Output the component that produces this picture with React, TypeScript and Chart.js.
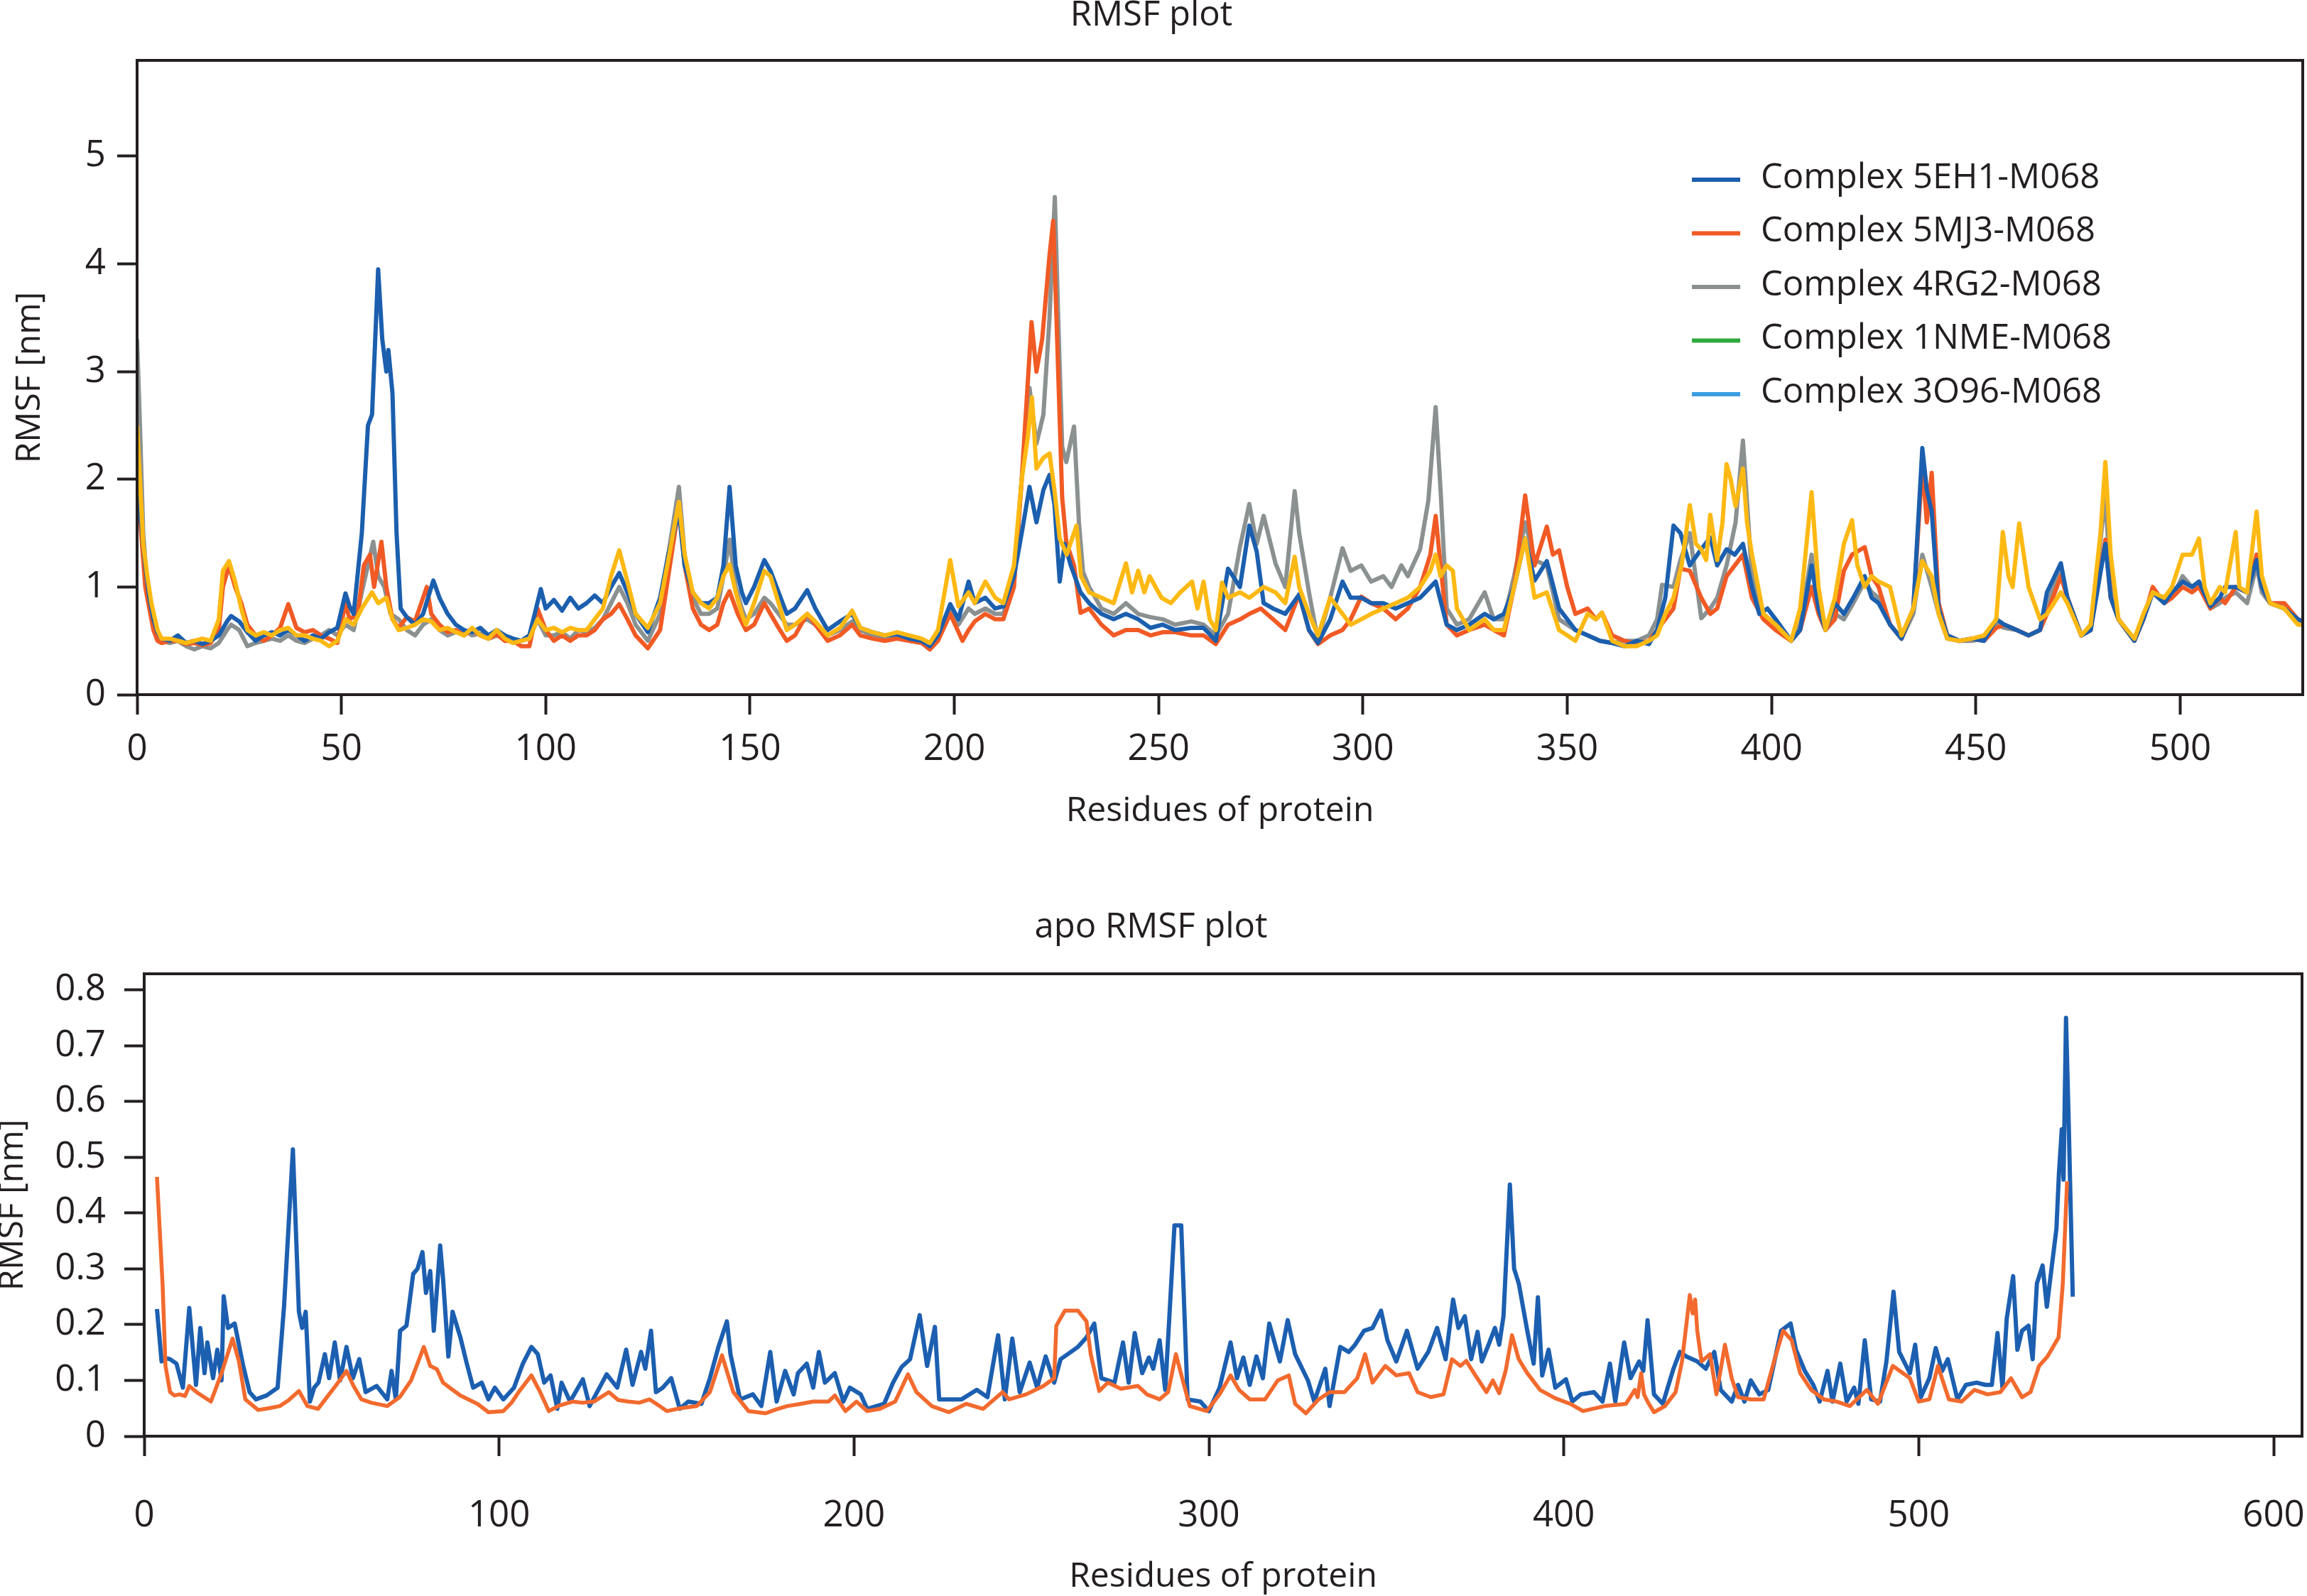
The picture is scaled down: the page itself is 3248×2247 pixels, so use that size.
import { useEffect, useRef } from 'react';
import Chart from 'chart.js/auto';

type Pt = [number, number];

const INK = '#231f20';
const CANVAS_W = 3312;

const LEGEND_LABELS = ['Complex 5EH1-M068', 'Complex 5MJ3-M068', 'Complex 4RG2-M068', 'Complex 1NME-M068', 'Complex 3O96-M068'];
const LEGEND_COLORS = ['#1b5fae', '#f15a24', '#8b9191', '#2eaa3c', '#3c9de0'];

const COMPLEX_X_TICKS = [0, 50, 100, 150, 200, 250, 300, 350, 400, 450, 500];
const COMPLEX_Y_TICKS = [0, 1, 2, 3, 4, 5];
const APO_X_TICKS = [0, 100, 200, 300, 400, 500, 600];
const APO_Y_TICKS = [0, 0.1, 0.2, 0.3, 0.4, 0.5, 0.6, 0.7, 0.8];

// complex RMSF, residue -> nm
const rmsf5EH1: Pt[] = [
  [0, 1.9], [1, 1.6], [2, 1.2], [3, 0.9], [4, 0.7], [5, 0.58], [6, 0.52], [8, 0.5], [10, 0.55], [12, 0.48], [14, 0.5], [16, 0.47],
  [18, 0.5], [20, 0.55], [22, 0.68], [23, 0.73], [25, 0.68], [27, 0.58], [29, 0.5], [31, 0.55], [33, 0.58], [35, 0.55], [37, 0.6],
  [39, 0.55], [41, 0.5], [43, 0.55], [45, 0.52], [47, 0.58], [49, 0.62], [51, 0.94], [52, 0.82], [53, 0.75], [55, 1.5], [56.5, 2.5],
  [57.5, 2.6], [59, 3.95], [60, 3.3], [61, 3.0], [61.5, 3.2], [62.5, 2.8], [63.5, 1.5], [64.5, 0.8], [66, 0.72], [68, 0.65], [70, 0.75],
  [72.5, 1.06], [74, 0.9], [76, 0.75], [78, 0.65], [80, 0.6], [82, 0.58], [84, 0.62], [86, 0.55], [88, 0.6], [90, 0.55], [92, 0.52],
  [94, 0.5], [96, 0.55], [98.8, 0.98], [100, 0.8], [102, 0.88], [104, 0.78], [106, 0.9], [108, 0.8], [110, 0.85], [112, 0.92],
  [114, 0.85], [116, 1.0], [118, 1.13], [120, 0.95], [122, 0.75], [125, 0.58], [128, 0.9], [130, 1.3], [132.6, 1.7], [134, 1.2],
  [136, 0.95], [138, 0.85], [140, 0.85], [142, 0.9], [143.5, 1.2], [145, 1.93], [146.5, 1.2], [148, 0.95], [149, 0.85], [151, 1.0],
  [153.5, 1.25], [155, 1.15], [157, 0.95], [159, 0.75], [161, 0.8], [164, 0.97], [166, 0.8], [169, 0.6], [172, 0.68], [175, 0.75],
  [177, 0.62], [180, 0.58], [183, 0.55], [186, 0.56], [189, 0.52], [192, 0.5], [194, 0.45], [196, 0.55], [199, 0.84], [201, 0.7],
  [203.5, 1.05], [205, 0.85], [207.6, 0.9], [210, 0.8], [212, 0.82], [214.6, 1.1], [216.5, 1.5], [218.4, 1.93], [220.1, 1.6],
  [221.8, 1.9], [223.3, 2.04], [224.5, 1.77], [225.8, 1.05], [227, 1.4], [228.5, 1.2], [230.9, 0.95], [233, 0.85], [236, 0.75],
  [239, 0.7], [242, 0.75], [245, 0.7], [248, 0.62], [251, 0.65], [254, 0.6], [258, 0.62], [261, 0.62], [264, 0.5], [267, 1.17],
  [269.9, 1.0], [272.2, 1.57], [274, 1.33], [275.7, 0.85], [278, 0.8], [281, 0.75], [284.4, 0.93], [286.8, 0.6], [289, 0.48],
  [292, 0.7], [295, 1.05], [297, 0.9], [299.6, 0.9], [302, 0.85], [305, 0.85], [308, 0.8], [311, 0.85], [314, 0.9], [317.8, 1.05],
  [320.5, 0.65], [323, 0.6], [326, 0.65], [329.8, 0.75], [332, 0.7], [334.5, 0.75], [337, 1.0], [339.7, 1.45], [342, 1.06],
  [345, 1.24], [348, 0.8], [350, 0.7], [352, 0.6], [355, 0.55], [358, 0.5], [361, 0.48], [364, 0.45], [367, 0.5], [370, 0.47],
  [372, 0.6], [374, 0.9], [376, 1.57], [377.7, 1.5], [380, 1.2], [382.8, 1.35], [385, 1.46], [386.7, 1.2], [389, 1.35], [391, 1.3],
  [393, 1.4], [395.2, 1.0], [397, 0.75], [399, 0.8], [401, 0.7], [404.8, 0.5], [407, 0.6], [409.8, 1.2], [411.5, 0.8], [413.2, 0.6],
  [415.5, 0.85], [417.7, 0.75], [420, 0.9], [422.8, 1.1], [424.5, 0.9], [426.2, 0.85], [429, 0.65], [431.8, 0.52], [434.7, 0.8],
  [436.9, 2.29], [438, 1.9], [439.2, 1.7], [440.9, 0.8], [443, 0.55], [446, 0.5], [449, 0.52], [452, 0.5], [455, 0.7], [457, 0.65],
  [460, 0.6], [462.9, 0.55], [465.7, 0.6], [467.4, 0.95], [470.8, 1.22], [472.4, 0.9], [475.8, 0.55], [478.1, 0.6], [481.7, 1.4],
  [483, 0.9], [484.9, 0.7], [488.8, 0.5], [491, 0.7], [493.3, 0.95], [496.1, 0.85], [498, 0.95], [500.6, 1.05], [502.9, 1.0],
  [504.6, 1.05], [507.4, 0.82], [509.7, 0.9], [511, 1.0], [513.6, 1.0], [516.4, 0.95], [518.7, 1.25], [520, 1.0], [522, 0.85],
  [525.5, 0.8], [528.8, 0.7], [530, 0.68],
];

const rmsf5MJ3: Pt[] = [
  [0, 2.1], [1, 1.5], [2, 1.0], [3, 0.8], [4, 0.6], [5, 0.5], [6, 0.48], [8, 0.5], [10, 0.5], [12, 0.47], [14, 0.48], [16, 0.46],
  [18, 0.48], [20, 0.6], [21, 1.0], [22.5, 1.2], [24, 1.0], [25.5, 0.85], [27, 0.65], [29, 0.55], [31, 0.5], [33, 0.55], [35, 0.62],
  [37, 0.84], [39, 0.62], [41, 0.58], [43, 0.6], [45, 0.55], [47, 0.52], [49, 0.48], [51, 0.85], [52, 0.7], [54, 0.75], [55.5, 1.2],
  [57, 1.3], [58, 1.0], [59.8, 1.42], [61, 1.0], [62.5, 0.7], [64, 0.62], [66, 0.72], [68, 0.68], [70.9, 1.0], [72, 0.75], [74, 0.65],
  [76, 0.58], [78, 0.6], [80, 0.55], [82, 0.6], [84, 0.55], [86, 0.52], [88, 0.56], [90, 0.5], [92, 0.5], [94, 0.45], [96, 0.45],
  [98, 0.8], [100, 0.6], [102, 0.5], [104, 0.55], [106, 0.5], [108, 0.55], [110, 0.55], [112, 0.6], [114, 0.7], [116, 0.75],
  [118, 0.84], [120, 0.7], [122, 0.55], [125, 0.43], [128, 0.6], [130, 1.1], [132.6, 1.75], [134, 1.2], [136, 0.8], [138, 0.65],
  [140, 0.6], [142, 0.65], [143.5, 0.85], [145, 0.96], [147, 0.75], [149, 0.6], [151, 0.65], [153.5, 0.85], [155, 0.75], [157, 0.62],
  [159, 0.5], [161, 0.55], [164, 0.75], [166, 0.65], [169, 0.5], [172, 0.55], [175, 0.65], [177, 0.55], [180, 0.52], [183, 0.5],
  [186, 0.52], [189, 0.5], [192, 0.48], [194, 0.42], [196, 0.5], [199, 0.75], [202, 0.5], [203.5, 0.6], [205, 0.68], [207.6, 0.75],
  [210, 0.7], [212, 0.7], [214.6, 1.0], [216.5, 2.0], [218.9, 3.46], [220.1, 3.0], [221.5, 3.3], [223.3, 4.08], [224.2, 4.4],
  [225, 3.5], [226.4, 1.83], [227.4, 1.42], [229.3, 1.2], [230.9, 0.76], [233, 0.8], [236, 0.65], [239, 0.55], [242, 0.6], [245, 0.6],
  [248, 0.55], [251, 0.58], [254, 0.58], [258, 0.55], [261, 0.55], [264, 0.47], [267, 0.65], [270, 0.7], [272.2, 0.75], [275, 0.8],
  [278, 0.7], [281, 0.6], [284.4, 0.93], [286.8, 0.6], [289, 0.47], [292, 0.55], [295, 0.6], [297, 0.7], [299.6, 0.91], [302, 0.85],
  [305, 0.8], [308, 0.7], [311, 0.8], [314, 1.0], [316.5, 1.3], [317.8, 1.66], [319, 1.2], [320.5, 0.65], [323, 0.55], [326, 0.6],
  [329.8, 0.65], [332, 0.6], [334.5, 0.55], [337, 1.0], [339.7, 1.85], [342, 1.2], [345, 1.56], [346.5, 1.3], [348, 1.34], [350, 1.0],
  [352, 0.75], [355, 0.8], [357, 0.7], [358.5, 0.76], [361, 0.55], [364, 0.5], [367, 0.47], [370, 0.5], [373, 0.65], [376, 0.8],
  [377.7, 1.17], [380, 1.15], [382.8, 0.9], [385, 0.75], [386.7, 0.8], [389, 1.1], [391, 1.2], [393, 1.3], [395.2, 0.9], [398, 0.7],
  [401, 0.6], [404.8, 0.5], [407, 0.6], [409.8, 1.0], [411.5, 0.75], [413.2, 0.6], [415.5, 0.7], [417.7, 1.15], [419.7, 1.3],
  [422.8, 1.37], [424.5, 1.1], [426.2, 1.0], [429, 0.65], [431.8, 0.52], [434.7, 0.8], [436.9, 2.14], [438, 1.6], [439.2, 2.06],
  [440.9, 0.85], [443, 0.55], [446, 0.5], [449, 0.52], [452, 0.5], [455, 0.62], [457, 0.65], [460, 0.6], [462.9, 0.55], [465.7, 0.6],
  [467.4, 0.75], [470.8, 1.1], [472.4, 0.9], [475.8, 0.55], [478.1, 0.6], [481.7, 1.44], [483, 0.9], [484.9, 0.7], [488.8, 0.5],
  [491, 0.7], [493.3, 1.0], [496.1, 0.85], [498, 0.9], [500.6, 1.0], [502.9, 0.95], [504.6, 1.0], [507.4, 0.8], [509.7, 0.9],
  [511, 0.85], [513.6, 1.0], [516.4, 0.95], [518.7, 1.3], [520, 1.0], [522, 0.85], [525.5, 0.85], [528.8, 0.7], [530, 0.68],
];

const rmsf4RG2: Pt[] = [
  [0, 3.3], [0.7, 2.5], [1.5, 1.5], [2.5, 1.0], [3.5, 0.75], [5, 0.55], [6, 0.5], [8, 0.48], [10, 0.5], [12, 0.45], [14, 0.42],
  [16, 0.45], [18, 0.43], [20, 0.48], [22, 0.6], [23, 0.65], [25, 0.6], [27, 0.45], [29, 0.48], [31, 0.5], [33, 0.52], [35, 0.5],
  [37, 0.55], [39, 0.5], [41, 0.48], [43, 0.52], [45, 0.55], [47, 0.6], [49, 0.55], [51, 0.65], [53, 0.6], [55, 0.95], [57.8, 1.42],
  [59, 1.1], [60.5, 1.0], [62, 0.75], [64, 0.7], [66, 0.6], [68, 0.55], [70, 0.65], [72, 0.7], [74, 0.6], [76, 0.55], [78, 0.58],
  [80, 0.6], [82, 0.55], [84, 0.57], [86, 0.52], [88, 0.55], [90, 0.52], [92, 0.5], [94, 0.5], [96, 0.52], [98, 0.7], [100, 0.55],
  [102, 0.55], [104, 0.58], [106, 0.52], [108, 0.6], [110, 0.58], [112, 0.62], [114, 0.7], [116, 0.85], [118, 1.0], [120, 0.85],
  [122, 0.65], [125, 0.5], [128, 0.75], [130, 1.3], [132.6, 1.93], [134, 1.3], [136, 0.9], [138, 0.75], [140, 0.75], [142, 0.8],
  [143.5, 1.1], [145, 1.44], [146.5, 1.0], [148, 0.8], [149, 0.7], [151, 0.75], [153.5, 0.9], [155, 0.85], [157, 0.75], [159, 0.65],
  [161, 0.65], [164, 0.7], [166, 0.65], [169, 0.55], [172, 0.6], [175, 0.68], [177, 0.6], [180, 0.55], [183, 0.52], [186, 0.55],
  [189, 0.52], [192, 0.5], [194, 0.45], [196, 0.52], [199, 0.8], [201, 0.65], [203.5, 0.8], [205, 0.75], [207.6, 0.8], [210, 0.75],
  [212, 0.75], [214.6, 1.1], [216.5, 2.0], [218.4, 2.85], [220.1, 2.33], [221.8, 2.6], [223.3, 3.5], [224.6, 4.62], [225.5, 3.4],
  [226.4, 2.3], [227.4, 2.16], [229.3, 2.49], [230.5, 1.6], [231.5, 1.14], [233, 1.0], [236, 0.8], [239, 0.75], [242, 0.85],
  [245, 0.75], [248, 0.72], [251, 0.7], [254, 0.65], [258, 0.68], [261, 0.65], [264, 0.55], [267, 0.75], [269.9, 1.37], [272.2, 1.77],
  [274, 1.4], [275.7, 1.66], [278.6, 1.22], [281, 1.0], [283.3, 1.89], [284.4, 1.5], [286.8, 0.95], [289, 0.5], [292, 0.9],
  [295, 1.36], [297, 1.15], [299.6, 1.2], [302, 1.05], [305, 1.1], [307, 1.0], [309.4, 1.2], [311, 1.1], [314, 1.35], [316, 1.8],
  [317.8, 2.67], [319, 1.9], [320.5, 0.8], [323, 0.65], [326, 0.7], [329.8, 0.95], [332, 0.7], [334.5, 0.7], [337, 1.1], [339.7, 1.6],
  [342, 1.25], [345, 1.2], [348, 0.7], [350, 0.65], [352, 0.6], [355, 0.55], [358, 0.5], [361, 0.48], [364, 0.5], [367, 0.5],
  [370, 0.55], [372, 0.7], [373.2, 1.02], [376, 1.0], [377.7, 1.25], [380, 1.5], [382.8, 0.71], [385, 0.8], [386.7, 0.9], [389, 1.2],
  [391.2, 1.6], [393, 2.36], [395.2, 1.1], [398, 0.75], [401, 0.65], [404.8, 0.5], [407, 0.65], [409.8, 1.3], [411.5, 0.8],
  [413.2, 0.62], [415.5, 0.75], [417.7, 0.7], [420, 0.85], [422.8, 1.05], [424.5, 0.95], [426.2, 0.9], [429, 0.65], [431.8, 0.52],
  [434.7, 0.75], [436.9, 1.3], [439.2, 1.0], [440.9, 0.75], [443, 0.52], [446, 0.5], [449, 0.5], [452, 0.52], [455, 0.65], [457, 0.62],
  [460, 0.6], [462.9, 0.55], [465.7, 0.6], [467.4, 0.85], [470.8, 1.15], [472.4, 0.9], [475.8, 0.55], [478.1, 0.6], [481.7, 1.85],
  [483, 1.0], [484.9, 0.7], [488.8, 0.5], [491, 0.7], [493.3, 0.95], [496.1, 0.85], [498, 0.9], [500.6, 1.1], [502.9, 1.0],
  [504.6, 1.05], [507.4, 0.8], [509.7, 0.85], [511, 0.9], [513.6, 0.95], [516.4, 0.85], [518.7, 1.2], [520, 0.95], [522, 0.85],
  [525.5, 0.8], [528.8, 0.7], [530, 0.68],
];

const rmsf1NME: Pt[] = [
  [0, 2.5], [0.7, 2.0], [1.5, 1.4], [2.5, 1.1], [3.5, 0.85], [5, 0.6], [6, 0.52], [8, 0.52], [10, 0.5], [12, 0.48], [14, 0.5],
  [16, 0.52], [18, 0.5], [20, 0.7], [21, 1.15], [22.5, 1.24], [24, 1.05], [25.5, 0.8], [27, 0.6], [29, 0.55], [31, 0.58], [33, 0.55],
  [35, 0.6], [37, 0.62], [39, 0.55], [41, 0.55], [43, 0.52], [45, 0.5], [47, 0.45], [49, 0.5], [51, 0.7], [53, 0.65], [55, 0.8],
  [57.5, 0.95], [59, 0.85], [61, 0.9], [62.5, 0.7], [64, 0.6], [66, 0.62], [68, 0.65], [70, 0.7], [72, 0.68], [74, 0.6], [76, 0.62],
  [78, 0.58], [80, 0.55], [82, 0.62], [84, 0.55], [86, 0.52], [88, 0.6], [90, 0.52], [92, 0.48], [94, 0.5], [96, 0.52], [98, 0.7],
  [100, 0.6], [102, 0.62], [104, 0.58], [106, 0.62], [108, 0.6], [110, 0.6], [112, 0.7], [114, 0.8], [116, 1.1], [118, 1.34],
  [120, 1.05], [122, 0.75], [125, 0.62], [128, 0.85], [130, 1.25], [132.6, 1.79], [134, 1.3], [136, 0.95], [138, 0.85], [140, 0.8],
  [142, 0.9], [143.5, 1.1], [145, 1.21], [146.5, 0.95], [148, 0.75], [149, 0.65], [151, 0.85], [153.5, 1.15], [155, 1.1], [157, 0.85],
  [159, 0.6], [161, 0.65], [164, 0.75], [166, 0.68], [169, 0.55], [172, 0.62], [175, 0.78], [177, 0.62], [180, 0.58], [183, 0.55],
  [186, 0.58], [189, 0.55], [192, 0.52], [194, 0.48], [196, 0.6], [199, 1.25], [201, 0.82], [203.5, 0.95], [205, 0.85], [207.6, 1.05],
  [210, 0.9], [212, 0.85], [214.6, 1.2], [216.5, 2.0], [218, 2.4], [219, 2.76], [220.1, 2.1], [221.8, 2.2], [223.3, 2.24],
  [224.5, 1.9], [225.8, 1.45], [227.5, 1.3], [229.9, 1.57], [231, 1.1], [233, 0.95], [236, 0.9], [239, 0.85], [242, 1.22],
  [243.5, 0.95], [245, 1.15], [246.5, 0.95], [247.8, 1.1], [250.7, 0.9], [253, 0.85], [255.3, 0.95], [258.2, 1.05], [259.5, 0.8],
  [261, 1.05], [262.5, 0.7], [264, 0.6], [265.5, 1.04], [267, 0.9], [269.9, 0.95], [272.2, 0.9], [275.7, 1.0], [278.6, 0.95],
  [281, 0.85], [283.3, 1.28], [284.4, 1.0], [286.8, 0.75], [289, 0.55], [292, 0.9], [295, 0.75], [297, 0.65], [299.6, 0.7],
  [302, 0.75], [305, 0.8], [308, 0.85], [311, 0.9], [314, 1.0], [316.5, 1.15], [317.8, 1.3], [319, 1.1], [320.5, 1.2], [322, 1.15],
  [323, 0.8], [326, 0.6], [329.8, 0.7], [332, 0.6], [334.5, 0.6], [337, 1.0], [339.7, 1.45], [342, 0.9], [345, 0.95], [348, 0.6],
  [350, 0.55], [352, 0.5], [355, 0.75], [357, 0.7], [358.5, 0.76], [361, 0.5], [364, 0.45], [367, 0.45], [370, 0.5], [372, 0.55],
  [374, 0.75], [376, 0.9], [378, 1.2], [380, 1.76], [381.5, 1.4], [382.8, 1.35], [384, 1.25], [385, 1.67], [386.7, 1.25], [388, 1.6],
  [389, 2.14], [390, 2.0], [391.2, 1.75], [392, 1.9], [393, 2.1], [394, 1.6], [395.2, 1.3], [398, 0.75], [401, 0.65], [404.8, 0.5],
  [407, 0.8], [409.8, 1.88], [411.5, 1.0], [413.2, 0.6], [415.5, 0.9], [417.7, 1.4], [419.7, 1.62], [421, 1.2], [422.8, 1.0],
  [424.5, 1.1], [426.2, 1.05], [429, 1.0], [431.8, 0.55], [434.7, 0.8], [436.9, 1.24], [439.2, 1.1], [440.9, 0.75], [443, 0.52],
  [446, 0.5], [449, 0.52], [452, 0.55], [455, 0.7], [456.6, 1.51], [458, 1.1], [459, 1.0], [460.6, 1.59], [462.9, 1.0], [465.7, 0.7],
  [467.4, 0.75], [470.8, 0.95], [472.4, 0.85], [475.8, 0.55], [478.1, 0.65], [480.5, 1.5], [481.7, 2.16], [483, 1.3], [484.9, 0.7],
  [488.8, 0.52], [491, 0.75], [493.3, 0.95], [496.1, 0.9], [498, 1.0], [500.6, 1.3], [502.9, 1.3], [504.6, 1.45], [506, 1.0],
  [507.4, 0.85], [509.7, 1.0], [511, 0.95], [513.6, 1.51], [514.5, 1.0], [516.4, 0.95], [518.7, 1.7], [520, 1.1], [522, 0.85],
  [525.5, 0.8], [528.8, 0.65], [530, 0.65],
];

// apo RMSF, residue -> nm
const apoBlue: Pt[] = [
  [3.6, 0.228], [4.9, 0.134], [6, 0.14], [7.3, 0.138], [9.1, 0.13], [10.9, 0.087], [12.7, 0.23], [14.6, 0.092], [15.8, 0.194],
  [17, 0.113], [17.8, 0.168], [19.4, 0.104], [20.6, 0.155], [21.8, 0.1], [22.4, 0.251], [23.6, 0.194], [25.5, 0.202], [27.9, 0.126],
  [29.7, 0.079], [31.5, 0.066], [34.5, 0.073], [37.6, 0.087], [39.4, 0.232], [41.9, 0.514], [43.6, 0.223], [44.5, 0.194],
  [45.5, 0.223], [46.7, 0.062], [47.9, 0.087], [49.1, 0.096], [50.9, 0.147], [52.1, 0.104], [53.7, 0.168], [55.2, 0.1], [57, 0.16],
  [58.8, 0.104], [60.6, 0.138], [62.4, 0.079], [65.5, 0.09], [68.5, 0.066], [69.7, 0.117], [70.9, 0.066], [72.1, 0.189],
  [73.9, 0.198], [75.8, 0.291], [77, 0.3], [78.4, 0.33], [79.4, 0.257], [80.6, 0.296], [81.6, 0.189], [83.4, 0.342], [84.2, 0.283],
  [85.7, 0.143], [86.9, 0.223], [89.1, 0.177], [90.9, 0.13], [92.7, 0.087], [95.1, 0.096], [97, 0.066], [98.8, 0.087], [101.2, 0.066],
  [104.2, 0.087], [106.7, 0.13], [109.1, 0.16], [110.9, 0.147], [112.7, 0.096], [114.5, 0.109], [116.4, 0.049], [117.6, 0.096],
  [120, 0.062], [123.6, 0.102], [125.5, 0.054], [130.3, 0.111], [133.3, 0.087], [135.8, 0.155], [137.6, 0.092], [140, 0.151],
  [141.2, 0.121], [142.8, 0.189], [144.2, 0.079], [146.1, 0.087], [148.5, 0.104], [150.9, 0.049], [153.3, 0.062], [157, 0.058],
  [159.4, 0.104], [161.8, 0.16], [164.2, 0.206], [165.2, 0.147], [167.9, 0.066], [171.5, 0.075], [173.9, 0.054], [176.4, 0.151],
  [178.2, 0.062], [180.6, 0.117], [183, 0.075], [184.2, 0.113], [186.7, 0.13], [188.5, 0.087], [190.1, 0.151], [191.8, 0.096],
  [194.6, 0.113], [197, 0.062], [198.8, 0.087], [201.9, 0.075], [203.7, 0.049], [208.5, 0.058], [211, 0.096], [213.4, 0.124],
  [215.8, 0.138], [218.5, 0.217], [220.6, 0.126], [222.8, 0.196], [224, 0.066], [226.7, 0.066], [230.3, 0.066], [234.6, 0.083],
  [237.6, 0.07], [240.6, 0.181], [242.5, 0.066], [244.6, 0.175], [246.7, 0.079], [249.5, 0.132], [251.6, 0.087], [254, 0.143],
  [256.4, 0.096], [258.2, 0.138], [263.1, 0.16], [265.5, 0.177], [267.7, 0.202], [269.7, 0.104], [273.4, 0.096], [275.8, 0.168],
  [277.4, 0.096], [279.1, 0.185], [281.2, 0.113], [283.1, 0.141], [284.3, 0.121], [286.1, 0.172], [287.7, 0.083], [290.3, 0.378],
  [292.2, 0.378], [294, 0.066], [297.6, 0.062], [300, 0.045], [303, 0.087], [306.1, 0.168], [307.9, 0.104], [309.7, 0.141],
  [311.5, 0.092], [313.4, 0.143], [315.2, 0.104], [317, 0.202], [320, 0.134], [322.2, 0.208], [324.3, 0.147], [327.9, 0.1],
  [329.7, 0.062], [332.8, 0.121], [334, 0.054], [337, 0.16], [339.4, 0.151], [341.2, 0.164], [343.7, 0.189], [346.1, 0.194],
  [348.5, 0.225], [350.3, 0.172], [352.8, 0.134], [355.8, 0.189], [358.8, 0.121], [361.8, 0.151], [364.3, 0.194], [366.7, 0.138],
  [368.8, 0.245], [370.3, 0.194], [372.1, 0.215], [373.9, 0.138], [375.7, 0.187], [376.9, 0.134], [378.8, 0.164], [380.6, 0.194],
  [381.8, 0.164], [383, 0.215], [384.8, 0.451], [386, 0.3], [387.3, 0.274], [389.7, 0.189], [391.5, 0.13], [392.7, 0.249],
  [393.9, 0.109], [395.7, 0.155], [397.6, 0.087], [400.6, 0.102], [402.4, 0.062], [404.8, 0.075], [408.5, 0.079], [410.9, 0.062],
  [413, 0.13], [414.5, 0.062], [417, 0.168], [418.8, 0.104], [421.2, 0.134], [422.4, 0.117], [423.6, 0.208], [425.4, 0.075],
  [427.9, 0.058], [429.7, 0.096], [430.9, 0.121], [432.7, 0.151], [434.5, 0.143], [437.6, 0.134], [440, 0.121], [442.4, 0.151],
  [444.2, 0.083], [447.3, 0.062], [449.1, 0.092], [450.9, 0.062], [452.7, 0.1], [455.1, 0.075], [457.6, 0.083], [461.2, 0.189],
  [463.9, 0.202], [465.4, 0.155], [467.9, 0.117], [470.3, 0.092], [472.1, 0.062], [474.3, 0.117], [475.7, 0.062], [477.9, 0.13],
  [479.7, 0.062], [481.8, 0.087], [483, 0.058], [484.8, 0.172], [486.6, 0.066], [489.1, 0.062], [490.9, 0.134], [492.9, 0.259],
  [494.5, 0.151], [497.5, 0.113], [499, 0.164], [500.6, 0.07], [503, 0.104], [504.8, 0.158], [506.6, 0.117], [508.2, 0.138],
  [510.9, 0.066], [513.3, 0.092], [516.3, 0.096], [518.8, 0.092], [520.6, 0.092], [522.2, 0.185], [523.6, 0.087], [524.8, 0.211],
  [526.6, 0.287], [527.8, 0.155], [529.1, 0.189], [530.9, 0.198], [532.1, 0.138], [533.3, 0.274], [534.9, 0.306], [536.1, 0.232],
  [537, 0.279], [538.8, 0.372], [539.5, 0.47], [540.3, 0.55], [540.8, 0.46], [541.5, 0.75], [542.3, 0.55], [543.4, 0.25],
];

const apoOrange: Pt[] = [
  [3.6, 0.465], [5.2, 0.27], [6, 0.126], [7.3, 0.079], [8.5, 0.073], [10, 0.075], [11.5, 0.072], [12.7, 0.09], [15.2, 0.077],
  [18.8, 0.062], [21.8, 0.113], [24.9, 0.175], [26.7, 0.134], [28.5, 0.066], [32.1, 0.047], [35, 0.05], [38.2, 0.054], [40.6, 0.064],
  [43.6, 0.081], [46, 0.054], [49, 0.049], [51.5, 0.07], [53.9, 0.09], [57, 0.117], [59, 0.09], [61.2, 0.066], [64, 0.06],
  [68.5, 0.054], [72, 0.07], [75.2, 0.1], [78.8, 0.16], [80.6, 0.126], [82.5, 0.12], [84.2, 0.096], [86.5, 0.085], [89.1, 0.073],
  [93.9, 0.058], [97, 0.043], [101.2, 0.045], [103.5, 0.06], [105.5, 0.079], [109.1, 0.109], [111.5, 0.08], [114, 0.045], [117, 0.055],
  [120.6, 0.062], [123.5, 0.06], [126.7, 0.062], [130.9, 0.079], [133.5, 0.065], [136.4, 0.062], [139.5, 0.06], [142.4, 0.066],
  [145, 0.055], [147.3, 0.045], [151, 0.05], [155.7, 0.054], [159.4, 0.079], [162.8, 0.145], [166, 0.079], [170.3, 0.045],
  [175.1, 0.041], [178, 0.048], [181.2, 0.054], [185, 0.058], [188.5, 0.062], [192.8, 0.062], [194.6, 0.073], [197.6, 0.045],
  [200.7, 0.062], [203.7, 0.045], [207.3, 0.049], [211.6, 0.062], [215.2, 0.111], [217.6, 0.079], [221.9, 0.054], [226.7, 0.043],
  [231.6, 0.058], [236.4, 0.049], [241.9, 0.079], [243.7, 0.066], [248.5, 0.075], [253.4, 0.09], [256.4, 0.104], [257, 0.198],
  [259.4, 0.225], [263.1, 0.225], [265.5, 0.206], [266.7, 0.147], [269.1, 0.081], [271.5, 0.096], [275.2, 0.085], [280, 0.09],
  [282.5, 0.075], [286.1, 0.066], [288.5, 0.079], [290.7, 0.147], [292.8, 0.096], [294.6, 0.054], [299.4, 0.045], [303, 0.075],
  [306.1, 0.109], [308.5, 0.083], [311.5, 0.066], [315.8, 0.066], [319.4, 0.1], [322.5, 0.109], [324.3, 0.058], [327.3, 0.041],
  [330.9, 0.066], [334, 0.079], [338.2, 0.079], [341.8, 0.104], [344, 0.147], [346.1, 0.096], [349.7, 0.126], [352.8, 0.109],
  [356.4, 0.113], [358.8, 0.079], [362.5, 0.07], [366.1, 0.075], [368.5, 0.138], [370.9, 0.126], [372.5, 0.135], [375.1, 0.109],
  [378.2, 0.079], [380, 0.1], [381.8, 0.077], [383.6, 0.117], [385.4, 0.181], [387.3, 0.138], [389.7, 0.113], [393.3, 0.083],
  [397.6, 0.068], [401.8, 0.058], [405.4, 0.045], [411.5, 0.054], [417.5, 0.058], [420, 0.083], [420.8, 0.07], [421.8, 0.113],
  [422.6, 0.075], [423.6, 0.062], [425.4, 0.043], [428.5, 0.054], [431.5, 0.079], [433.3, 0.134], [435.5, 0.253], [436.3, 0.22],
  [437, 0.245], [437.6, 0.189], [438.8, 0.134], [441.2, 0.147], [443, 0.075], [445.4, 0.164], [447.3, 0.104], [449.1, 0.07],
  [452.7, 0.066], [456.3, 0.066], [459.4, 0.138], [461.8, 0.189], [464.2, 0.172], [466.6, 0.113], [469.7, 0.083], [473.3, 0.066],
  [476.9, 0.062], [480.6, 0.054], [485.4, 0.083], [488.5, 0.058], [492.7, 0.126], [497.5, 0.104], [500, 0.062], [503, 0.066],
  [505.4, 0.126], [508.5, 0.066], [512.1, 0.062], [515.7, 0.083], [519.4, 0.075], [523, 0.079], [526, 0.104], [529.1, 0.07],
  [531.5, 0.079], [533.9, 0.126], [536.3, 0.143], [539.4, 0.177], [540.6, 0.274], [541.8, 0.457],
];

Chart.defaults.font.family = "'Open Sans', sans-serif";
Chart.defaults.color = INK;

const toXY = (pts: Pt[]) => pts.map(([x, y]) => ({ x, y }));

const line = (label: string, pts: Pt[], color: string, order: number, width = 6) => ({
  label,
  data: toXY(pts),
  borderColor: color,
  backgroundColor: color,
  borderWidth: width,
  borderJoinStyle: 'round',
  pointRadius: 0,
  tension: 0,
  order,
});

// box round the plot area
const framePlugin = {
  id: 'frame',
  afterDatasetsDraw(chart: any) {
    const { ctx, chartArea } = chart;
    ctx.save();
    ctx.strokeStyle = INK;
    ctx.lineWidth = 4;
    ctx.strokeRect(chartArea.left, chartArea.top, chartArea.right - chartArea.left, chartArea.bottom - chartArea.top);
    ctx.restore();
  },
};

// legend drawn inside the plot, like the original
const insideLegend = (left: number, top: number) => ({
  id: 'insideLegend',
  afterDraw(chart: any) {
    const { ctx } = chart;
    ctx.save();
    ctx.font = "49px 'Open Sans', sans-serif";
    ctx.textBaseline = 'middle';
    LEGEND_LABELS.forEach((label, i) => {
      const y = top + i * 75.5;
      ctx.strokeStyle = LEGEND_COLORS[i];
      ctx.lineWidth = 6;
      ctx.beginPath();
      ctx.moveTo(left, y);
      ctx.lineTo(left + 68, y);
      ctx.stroke();
      ctx.fillStyle = INK;
      ctx.fillText(label, left + 97, y - 2);
    });
    ctx.restore();
  },
});

function scales(o: {
  xMax: number; xTicks: number[]; yMax: number; yTicks: number[];
  yWidth: number; xHeight: number; yTickPad: number; xTickPad: number; yTitlePad: number; xTitlePad: number;
}) {
  const grid = { display: true, drawOnChartArea: false, drawTicks: true, tickLength: 28, tickWidth: 4, tickColor: INK };
  return {
    x: {
      type: 'linear',
      bounds: 'data',
      min: 0,
      max: o.xMax,
      border: { display: false },
      grid,
      ticks: { padding: o.xTickPad, maxRotation: 0, autoSkip: false, font: { size: 51 }, color: INK },
      afterBuildTicks: (s: any) => { s.ticks = o.xTicks.map((value) => ({ value })); },
      title: { display: true, text: 'Residues of protein', color: INK, font: { size: 48 }, padding: { top: 0, bottom: o.xTitlePad } },
      afterFit: (s: any) => { s.height = o.xHeight; },
    },
    y: {
      type: 'linear',
      bounds: 'data',
      min: 0,
      max: o.yMax,
      border: { display: false },
      grid,
      ticks: { padding: o.yTickPad, autoSkip: false, font: { size: 51 }, color: INK },
      afterBuildTicks: (s: any) => { s.ticks = o.yTicks.map((value) => ({ value })); },
      title: { display: true, text: 'RMSF [nm]', color: INK, font: { size: 48 }, padding: { top: o.yTitlePad, bottom: 0 } },
      afterFit: (s: any) => { s.width = o.yWidth; },
    },
  };
}

function complexConfig(): any {
  return {
    type: 'line',
    data: {
      datasets: [
        line(LEGEND_LABELS[3], rmsf1NME, '#fdb913', 0),
        line(LEGEND_LABELS[0], rmsf5EH1, '#1b5fae', 1),
        line(LEGEND_LABELS[1], rmsf5MJ3, '#f15a24', 2),
        line(LEGEND_LABELS[2], rmsf4RG2, '#8b9191', 3),
      ],
    },
    options: {
      responsive: false,
      animation: false,
      layout: { padding: { left: 0, right: CANVAS_W - 3242, top: 0, bottom: 0 } },
      plugins: {
        legend: { display: false },
        tooltip: { enabled: false },
        title: { display: true, text: 'RMSF plot', color: INK, font: { size: 49, weight: 'normal' }, padding: { top: -7, bottom: 33.2 } },
      },
      scales: scales({
        xMax: 530, xTicks: COMPLEX_X_TICKS, yMax: 5.89, yTicks: COMPLEX_Y_TICKS,
        yWidth: 193, xHeight: 222, yTickPad: 16, xTickPad: 19, yTitlePad: 14, xTitlePad: 29,
      }),
    },
    plugins: [framePlugin, insideLegend(2382, 253)],
  };
}

function apoConfig(): any {
  return {
    type: 'line',
    data: {
      datasets: [
        line('apo (orange)', apoOrange, '#f26a2e', 0, 5.5),
        line('apo (blue)', apoBlue, '#1c5fb0', 1, 6),
      ],
    },
    options: {
      responsive: false,
      animation: false,
      layout: { padding: { left: 0, right: CANVAS_W - 3241, top: 0, bottom: 0 } },
      plugins: {
        legend: { display: false },
        tooltip: { enabled: false },
        title: { display: true, text: 'apo RMSF plot', color: INK, font: { size: 49, weight: 'normal' }, padding: { top: 47, bottom: 35.2 } },
      },
      scales: scales({
        xMax: 608, xTicks: APO_X_TICKS, yMax: 0.829, yTicks: APO_Y_TICKS,
        yWidth: 203, xHeight: 225, yTickPad: 26, xTickPad: 54, yTitlePad: -10, xTitlePad: -2,
      }),
    },
    plugins: [framePlugin],
  };
}

function ChartCanvas({ build, width, height, top }: { build: () => any; width: number; height: number; top: number }) {
  const canvasRef = useRef<HTMLCanvasElement>(null);
  const chartRef = useRef<Chart | null>(null);

  useEffect(() => {
    if (!canvasRef.current) return;
    chartRef.current = new Chart(canvasRef.current, build());
    return () => {
      chartRef.current?.destroy();
      chartRef.current = null;
    };
  }, [build]);

  return <canvas ref={canvasRef} width={width} height={height} style={{ position: 'absolute', left: 0, top, width, height }} />;
}

export default function App() {
  return (
    <div style={{ position: 'fixed', left: 0, top: 0, width: 3248, height: 2247, overflow: 'hidden', background: '#fff' }}>
      <ChartCanvas build={complexConfig} width={CANVAS_W} height={1200} top={0} />
      <ChartCanvas build={apoConfig} width={CANVAS_W} height={1017} top={1230} />
    </div>
  );
}
